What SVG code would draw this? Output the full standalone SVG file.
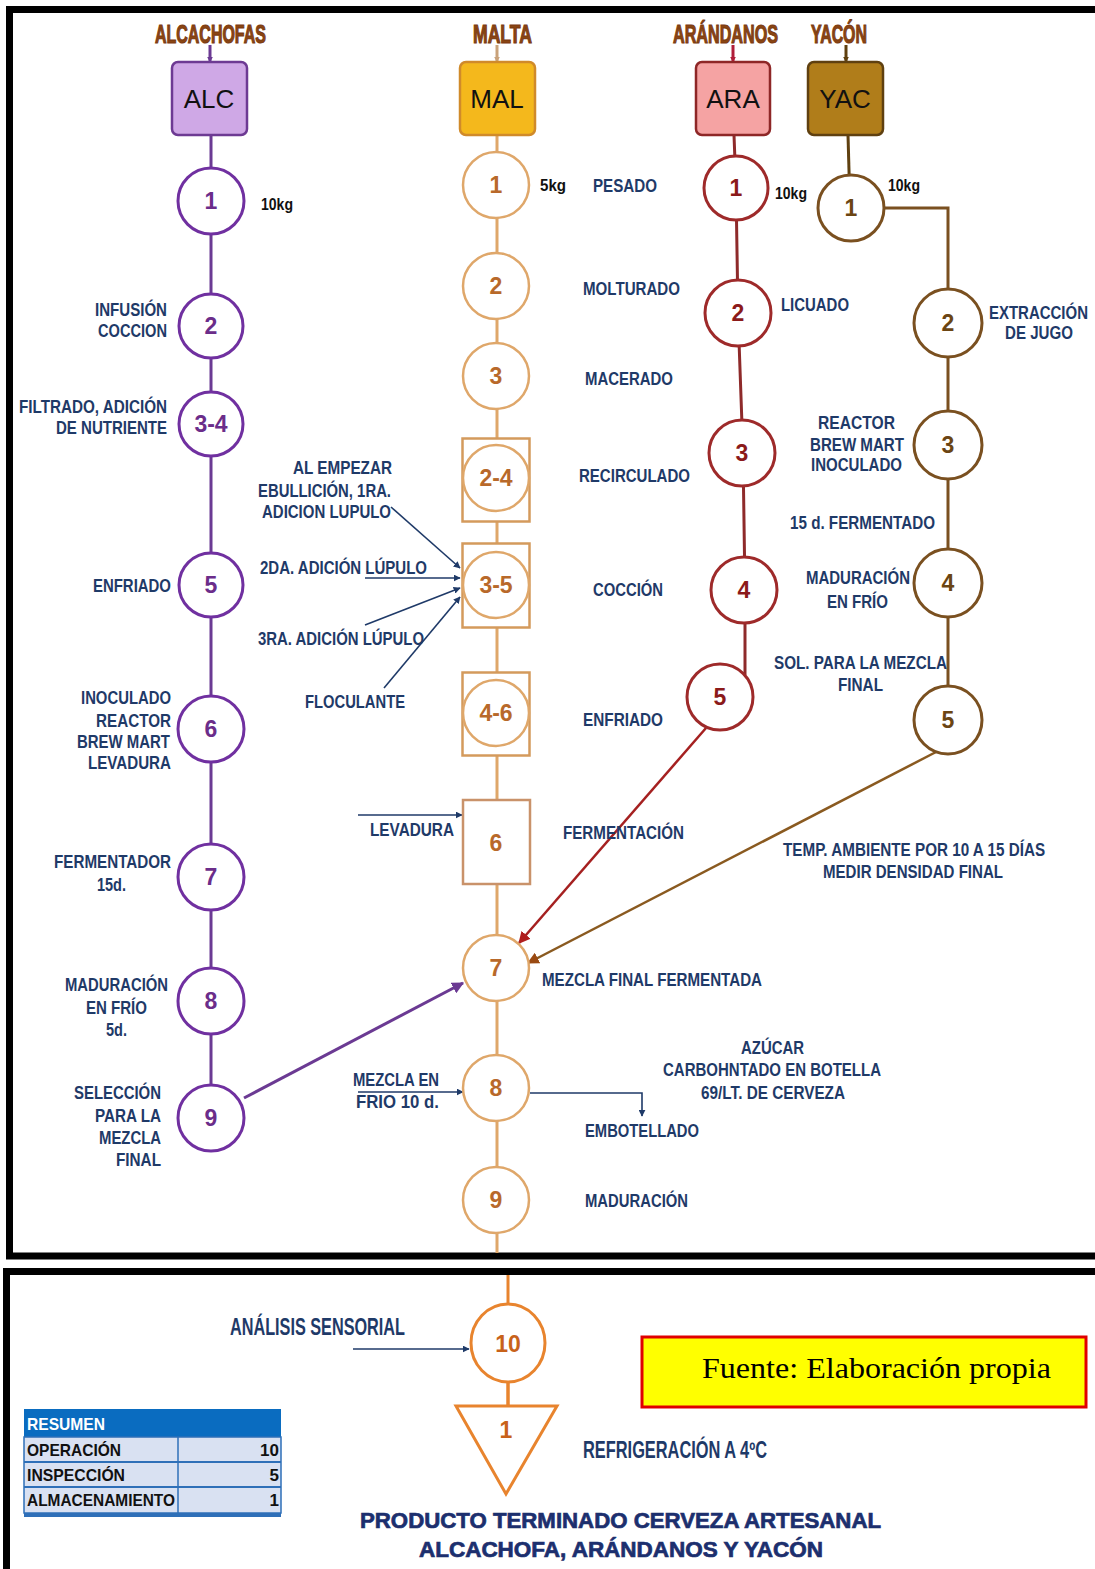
<svg xmlns="http://www.w3.org/2000/svg" width="1095" height="1569" viewBox="0 0 1095 1569">
<style>
text{font-family:"Liberation Sans",Arial,sans-serif;font-weight:bold}
.lb{font-size:19px;fill:#1f3a68}
.lg{font-size:23px;fill:#1f3a68}
.kg{font-size:17px;fill:#111}
.hd{font-size:25px;fill:#8a4513;stroke:#7a3a10;stroke-width:1.1px}
.num{font-size:23px;text-anchor:middle}
.box{font-size:26px;font-weight:normal;fill:#111;text-anchor:middle}
.src{font-family:"Liberation Serif","Times New Roman",serif;font-weight:normal;font-size:30px;fill:#000}
.tb{font-size:17px;fill:#111}
.ft{font-size:22px;fill:#1c2f6e;stroke:#1c2f6e;stroke-width:0.7px}
.ca{fill:#fff;stroke:#7030a0;stroke-width:3}
.cm{fill:#fff;stroke:#dfa76a;stroke-width:2.5}
.cr{fill:#fff;stroke:#9e2a2a;stroke-width:3}
.cy{fill:#fff;stroke:#7a5020;stroke-width:3}
.na{fill:#6b2d8a}.nm{fill:#b8692a}.nr{fill:#8b1a1a}.ny{fill:#6b4513}
.nav{stroke:#1f3a68;stroke-width:1.6;fill:none;marker-end:url(#an)}
</style>
<defs>
<marker id="an" viewBox="0 0 10 10" refX="9" refY="5" markerWidth="7" markerHeight="7" orient="auto" markerUnits="userSpaceOnUse"><path d="M0,0 L10,5 L0,10 z" fill="#1f3a68"/></marker>
<marker id="ap" viewBox="0 0 10 10" refX="9" refY="5" markerWidth="12" markerHeight="12" orient="auto" markerUnits="userSpaceOnUse"><path d="M0,0 L10,5 L0,10 z" fill="#6b3a93"/></marker>
<marker id="ar" viewBox="0 0 10 10" refX="9" refY="5" markerWidth="12" markerHeight="12" orient="auto" markerUnits="userSpaceOnUse"><path d="M0,0 L10,5 L0,10 z" fill="#b01e1e"/></marker>
<marker id="ab" viewBox="0 0 10 10" refX="9" refY="5" markerWidth="12" markerHeight="12" orient="auto" markerUnits="userSpaceOnUse"><path d="M0,0 L10,5 L0,10 z" fill="#9a4a12"/></marker>
<marker id="ah" viewBox="0 0 10 10" refX="9" refY="5" markerWidth="6" markerHeight="6" orient="auto" markerUnits="userSpaceOnUse"><path d="M0,0 L10,5 L0,10 z" fill="context-stroke"/></marker>
</defs>
<rect width="1095" height="1569" fill="#fff"/>
<!-- panels -->
<rect x="9.5" y="9.5" width="1100" height="1246.5" fill="none" stroke="#000" stroke-width="7"/>
<rect x="6.5" y="1271.5" width="1100" height="320" fill="none" stroke="#000" stroke-width="7"/>

<g id="connectors">
<line x1="211" y1="135" x2="211" y2="1118" stroke="#6b3a93" stroke-width="3"/>
<line x1="497" y1="135" x2="497" y2="1253" stroke="#dfa76a" stroke-width="3"/>
<line x1="508" y1="1275" x2="508" y2="1406" stroke="#e8842e" stroke-width="3"/>
<polyline points="734,135 736,188 738,313 743,453 745,590 745,675" fill="none" stroke="#8e2a2a" stroke-width="3"/>
<polyline points="848,135 850,206" fill="none" stroke="#5f4010" stroke-width="3"/>
<polyline points="851,208 948,208 948,720" fill="none" stroke="#7a5020" stroke-width="3"/>
<line x1="210" y1="45" x2="210" y2="62" stroke="#6b3a93" stroke-width="3" marker-end="url(#ah)"/>
<line x1="497" y1="45" x2="497" y2="62" stroke="#c9a27a" stroke-width="3" marker-end="url(#ah)"/>
<line x1="733" y1="45" x2="733" y2="62" stroke="#b01e3a" stroke-width="3" marker-end="url(#ah)"/>
<line x1="846" y1="45" x2="846" y2="62" stroke="#5f4010" stroke-width="3" marker-end="url(#ah)"/>
<line x1="244" y1="1098" x2="463" y2="983" stroke="#6b3a93" stroke-width="3" marker-end="url(#ap)"/>
<line x1="706" y1="728" x2="519" y2="943" stroke="#a52020" stroke-width="2.5" marker-end="url(#ar)"/>
<line x1="936" y1="752" x2="528" y2="963" stroke="#8a5a20" stroke-width="2.5" marker-end="url(#ab)"/>
<line class="nav" x1="391" y1="507" x2="460" y2="568"/>
<line class="nav" x1="365" y1="578" x2="460" y2="578"/>
<line class="nav" x1="365" y1="625" x2="460" y2="588"/>
<line class="nav" x1="384" y1="688" x2="460" y2="597"/>
<line class="nav" x1="358" y1="815" x2="462" y2="815"/>
<line class="nav" x1="358" y1="1092" x2="463" y2="1092"/>
<polyline class="nav" points="530,1093 642,1093 642,1116"/>
<line class="nav" x1="353" y1="1349" x2="469" y2="1349" stroke-width="2"/>
<line x1="508" y1="1383" x2="508" y2="1406" stroke="#e8842e" stroke-width="3"/>
</g>

<!-- headers and source boxes -->
<g id="alc-head"><text class="hd" transform="translate(155,43) scale(0.634,1)" textLength="175" lengthAdjust="spacingAndGlyphs">ALCACHOFAS</text>
<rect x="172" y="62" width="75" height="73" rx="6" fill="#cfa8e6" stroke="#6d3a93" stroke-width="2.5"/><text class="box" x="209" y="108">ALC</text></g>
<g id="mal-head"><text class="hd" transform="translate(473,43) scale(0.674,1)" textLength="87.5" lengthAdjust="spacingAndGlyphs">MALTA</text>
<rect x="460" y="62" width="75" height="73" rx="6" fill="#f4b81c" stroke="#d08a2a" stroke-width="2.5"/><text class="box" x="497" y="108">MAL</text></g>
<g id="ara-head"><text class="hd" transform="translate(673,43) scale(0.648,1)" textLength="162" lengthAdjust="spacingAndGlyphs">ARÁNDANOS</text>
<rect x="696" y="62" width="74" height="73" rx="6" fill="#f5a3a3" stroke="#8e2727" stroke-width="2.5"/><text class="box" x="733" y="108">ARA</text></g>
<g id="yac-head"><text class="hd" transform="translate(811,43) scale(0.62,1)" textLength="90.3" lengthAdjust="spacingAndGlyphs">YACÓN</text>
<rect x="808" y="62" width="75" height="73" rx="6" fill="#b07d1a" stroke="#5f4010" stroke-width="2.5"/><text class="box" x="845" y="108">YAC</text></g>

<!-- ALC column -->
<g id="alc1"><circle class="ca" cx="211" cy="201" r="33"/><text class="num na" x="211" y="209">1</text></g>
<g id="alc2"><circle class="ca" cx="211" cy="326" r="32"/><text class="num na" x="211" y="334">2</text></g>
<g id="alc34"><circle class="ca" cx="211" cy="424" r="32"/><text class="num na" x="211" y="432">3-4</text></g>
<g id="alc5"><circle class="ca" cx="211" cy="585" r="32"/><text class="num na" x="211" y="593">5</text></g>
<g id="alc6"><circle class="ca" cx="211" cy="729" r="33"/><text class="num na" x="211" y="737">6</text></g>
<g id="alc7"><circle class="ca" cx="211" cy="877" r="33"/><text class="num na" x="211" y="885">7</text></g>
<g id="alc8"><circle class="ca" cx="211" cy="1001" r="33"/><text class="num na" x="211" y="1009">8</text></g>
<g id="alc9"><circle class="ca" cx="211" cy="1118" r="33"/><text class="num na" x="211" y="1126">9</text></g>

<!-- MAL column -->
<g id="mal1"><circle class="cm" cx="496" cy="185" r="33"/><text class="num nm" x="496" y="193">1</text></g>
<g id="mal2"><circle class="cm" cx="496" cy="286" r="33"/><text class="num nm" x="496" y="294">2</text></g>
<g id="mal3"><circle class="cm" cx="496" cy="376" r="33"/><text class="num nm" x="496" y="384">3</text></g>
<g id="mal24"><rect x="462.5" y="438.5" width="67" height="83" fill="#fff" stroke="#d49a5c" stroke-width="2.5"/><circle class="cm" cx="496" cy="478" r="33"/><text class="num nm" x="496" y="486">2-4</text></g>
<g id="mal35"><rect x="462.5" y="543.5" width="67" height="84" fill="#fff" stroke="#d49a5c" stroke-width="2.5"/><circle class="cm" cx="496" cy="585" r="33"/><text class="num nm" x="496" y="593">3-5</text></g>
<g id="mal46"><rect x="462.5" y="672.5" width="67" height="83" fill="#fff" stroke="#d49a5c" stroke-width="2.5"/><circle class="cm" cx="496" cy="713" r="33"/><text class="num nm" x="496" y="721">4-6</text></g>
<g id="mal6"><rect x="463" y="800" width="67" height="84" fill="#fff" stroke="#c9926a" stroke-width="2.5"/><text class="num nm" x="496" y="851">6</text></g>
<g id="mal7"><circle class="cm" cx="496" cy="968" r="33"/><text class="num nm" x="496" y="976">7</text></g>
<g id="mal8"><circle class="cm" cx="496" cy="1088" r="33"/><text class="num nm" x="496" y="1096">8</text></g>
<g id="mal9"><circle class="cm" cx="496" cy="1200" r="33"/><text class="num nm" x="496" y="1208">9</text></g>
<g id="mal10"><ellipse cx="508" cy="1343" rx="37" ry="39" fill="#fff" stroke="#e8842e" stroke-width="3"/><text class="num" x="508" y="1352" fill="#c8621a" font-size="26">10</text></g>
<g id="alm1"><polygon points="456,1406 557,1406 506,1494" fill="#fff" stroke="#e8842e" stroke-width="3"/><text class="num" x="506" y="1438" fill="#c8621a">1</text></g>

<!-- ARA column -->
<g id="ara1"><circle class="cr" cx="736" cy="188" r="32"/><text class="num nr" x="736" y="196">1</text></g>
<g id="ara2"><circle class="cr" cx="738" cy="313" r="33"/><text class="num nr" x="738" y="321">2</text></g>
<g id="ara3"><circle class="cr" cx="742" cy="453" r="33"/><text class="num nr" x="742" y="461">3</text></g>
<g id="ara4"><circle class="cr" cx="744" cy="590" r="33"/><text class="num nr" x="744" y="598">4</text></g>
<g id="ara5"><circle class="cr" cx="720" cy="697" r="33"/><text class="num nr" x="720" y="705">5</text></g>

<!-- YAC column -->
<g id="yac1"><circle class="cy" cx="851" cy="208" r="33"/><text class="num ny" x="851" y="216">1</text></g>
<g id="yac2"><circle class="cy" cx="948" cy="323" r="34"/><text class="num ny" x="948" y="331">2</text></g>
<g id="yac3"><circle class="cy" cx="948" cy="445" r="34"/><text class="num ny" x="948" y="453">3</text></g>
<g id="yac4"><circle class="cy" cx="948" cy="583" r="34"/><text class="num ny" x="948" y="591">4</text></g>
<g id="yac5"><circle class="cy" cx="948" cy="720" r="34"/><text class="num ny" x="948" y="728">5</text></g>

<!-- labels -->
<g id="labels">
<text class="kg" x="261" y="210" textLength="32" lengthAdjust="spacingAndGlyphs">10kg</text>
<text class="lb" x="95" y="316" textLength="72" lengthAdjust="spacingAndGlyphs">INFUSIÓN</text>
<text class="lb" x="98" y="337" textLength="69" lengthAdjust="spacingAndGlyphs">COCCION</text>
<text class="lb" x="19" y="413" textLength="148" lengthAdjust="spacingAndGlyphs">FILTRADO, ADICIÓN</text>
<text class="lb" x="56" y="434" textLength="111" lengthAdjust="spacingAndGlyphs">DE NUTRIENTE</text>
<text class="lb" x="93" y="592" textLength="78" lengthAdjust="spacingAndGlyphs">ENFRIADO</text>
<text class="lb" x="81" y="704" textLength="90" lengthAdjust="spacingAndGlyphs">INOCULADO</text>
<text class="lb" x="96" y="727" textLength="75" lengthAdjust="spacingAndGlyphs">REACTOR</text>
<text class="lb" x="77" y="748" textLength="93" lengthAdjust="spacingAndGlyphs">BREW MART</text>
<text class="lb" x="88" y="769" textLength="83" lengthAdjust="spacingAndGlyphs">LEVADURA</text>
<text class="lb" x="54" y="868" textLength="117" lengthAdjust="spacingAndGlyphs">FERMENTADOR</text>
<text class="lb" x="97" y="891" textLength="29" lengthAdjust="spacingAndGlyphs">15d.</text>
<text class="lb" x="65" y="991" textLength="103" lengthAdjust="spacingAndGlyphs">MADURACIÓN</text>
<text class="lb" x="86" y="1014" textLength="61" lengthAdjust="spacingAndGlyphs">EN FRÍO</text>
<text class="lb" x="106" y="1036" textLength="21" lengthAdjust="spacingAndGlyphs">5d.</text>
<text class="lb" x="74" y="1099" textLength="87" lengthAdjust="spacingAndGlyphs">SELECCIÓN</text>
<text class="lb" x="95" y="1122" textLength="66" lengthAdjust="spacingAndGlyphs">PARA LA</text>
<text class="lb" x="99" y="1144" textLength="62" lengthAdjust="spacingAndGlyphs">MEZCLA</text>
<text class="lb" x="116" y="1166" textLength="45" lengthAdjust="spacingAndGlyphs">FINAL</text>

<text class="lb" x="293" y="474" textLength="99" lengthAdjust="spacingAndGlyphs">AL EMPEZAR</text>
<text class="lb" x="258" y="497" textLength="133" lengthAdjust="spacingAndGlyphs">EBULLICIÓN, 1RA.</text>
<text class="lb" x="262" y="518" textLength="129" lengthAdjust="spacingAndGlyphs">ADICION LUPULO</text>
<text class="lb" x="260" y="574" textLength="167" lengthAdjust="spacingAndGlyphs">2DA. ADICIÓN LÚPULO</text>
<text class="lb" x="258" y="645" textLength="166" lengthAdjust="spacingAndGlyphs">3RA. ADICIÓN LÚPULO</text>
<text class="lb" x="305" y="708" textLength="100" lengthAdjust="spacingAndGlyphs">FLOCULANTE</text>
<text class="lb" x="370" y="836" textLength="84" lengthAdjust="spacingAndGlyphs">LEVADURA</text>
<text class="lb" x="353" y="1086" textLength="86" lengthAdjust="spacingAndGlyphs">MEZCLA EN</text>
<text class="lb" x="356" y="1108" textLength="83" lengthAdjust="spacingAndGlyphs">FRIO 10 d.</text>

<text class="kg" x="540" y="191" textLength="26" lengthAdjust="spacingAndGlyphs">5kg</text>
<text class="lb" x="593" y="192" textLength="64" lengthAdjust="spacingAndGlyphs">PESADO</text>
<text class="lb" x="583" y="295" textLength="97" lengthAdjust="spacingAndGlyphs">MOLTURADO</text>
<text class="lb" x="585" y="385" textLength="88" lengthAdjust="spacingAndGlyphs">MACERADO</text>
<text class="lb" x="579" y="482" textLength="111" lengthAdjust="spacingAndGlyphs">RECIRCULADO</text>
<text class="lb" x="593" y="596" textLength="70" lengthAdjust="spacingAndGlyphs">COCCIÓN</text>
<text class="lb" x="583" y="726" textLength="80" lengthAdjust="spacingAndGlyphs">ENFRIADO</text>
<text class="lb" x="563" y="839" textLength="121" lengthAdjust="spacingAndGlyphs">FERMENTACIÓN</text>
<text class="lb" x="542" y="986" textLength="220" lengthAdjust="spacingAndGlyphs">MEZCLA FINAL FERMENTADA</text>
<text class="lb" x="741" y="1054" textLength="63" lengthAdjust="spacingAndGlyphs">AZÚCAR</text>
<text class="lb" x="663" y="1076" textLength="218" lengthAdjust="spacingAndGlyphs">CARBOHNTADO EN BOTELLA</text>
<text class="lb" x="701" y="1099" textLength="144" lengthAdjust="spacingAndGlyphs">69/LT. DE CERVEZA</text>
<text class="lb" x="585" y="1137" textLength="114" lengthAdjust="spacingAndGlyphs">EMBOTELLADO</text>
<text class="lb" x="585" y="1207" textLength="103" lengthAdjust="spacingAndGlyphs">MADURACIÓN</text>

<text class="kg" x="775" y="199" textLength="32" lengthAdjust="spacingAndGlyphs">10kg</text>
<text class="lb" x="781" y="311" textLength="68" lengthAdjust="spacingAndGlyphs">LICUADO</text>

<text class="kg" x="888" y="191" textLength="32" lengthAdjust="spacingAndGlyphs">10kg</text>
<text class="lb" transform="translate(989,319) scale(0.79,1)" textLength="125.3" lengthAdjust="spacingAndGlyphs">EXTRACCIÓN</text>
<text class="lb" transform="translate(1005,339) scale(0.795,1)" textLength="85.5" lengthAdjust="spacingAndGlyphs">DE JUGO</text>
<text class="lb" x="818" y="429" textLength="77" lengthAdjust="spacingAndGlyphs">REACTOR</text>
<text class="lb" x="810" y="451" textLength="94" lengthAdjust="spacingAndGlyphs">BREW MART</text>
<text class="lb" x="811" y="471" textLength="91" lengthAdjust="spacingAndGlyphs">INOCULADO</text>
<text class="lb" x="790" y="529" textLength="145" lengthAdjust="spacingAndGlyphs">15 d. FERMENTADO</text>
<text class="lb" x="806" y="584" textLength="104" lengthAdjust="spacingAndGlyphs">MADURACIÓN</text>
<text class="lb" x="827" y="608" textLength="61" lengthAdjust="spacingAndGlyphs">EN FRÍO</text>
<text class="lb" x="774" y="669" textLength="173" lengthAdjust="spacingAndGlyphs">SOL. PARA LA MEZCLA</text>
<text class="lb" x="838" y="691" textLength="45" lengthAdjust="spacingAndGlyphs">FINAL</text>
<text class="lb" transform="translate(783,856) scale(0.84,1)" textLength="312" lengthAdjust="spacingAndGlyphs">TEMP. AMBIENTE POR 10 A 15 DÍAS</text>
<text class="lb" x="823" y="878" textLength="180" lengthAdjust="spacingAndGlyphs">MEDIR DENSIDAD FINAL</text>

<text class="lg" x="230" y="1335" textLength="175" lengthAdjust="spacingAndGlyphs">ANÁLISIS SENSORIAL</text>
<text class="lg" x="583" y="1458" textLength="184" lengthAdjust="spacingAndGlyphs">REFRIGERACIÓN A 4ºC</text>
<text class="ft" x="360" y="1528" textLength="521" lengthAdjust="spacingAndGlyphs">PRODUCTO TERMINADO CERVEZA ARTESANAL</text>
<text class="ft" x="419" y="1557" textLength="404" lengthAdjust="spacingAndGlyphs">ALCACHOFA, ARÁNDANOS Y YACÓN</text>
</g>

<g id="fuente">
<rect x="642" y="1337" width="444" height="70" fill="#ffff00" stroke="#e00000" stroke-width="3"/>
<text class="src" x="702" y="1378" textLength="349" lengthAdjust="spacingAndGlyphs">Fuente: Elaboración propia</text>
</g>

<g id="resumen">
<rect x="24" y="1409" width="257" height="28" fill="#0a6cc0"/>
<text class="tb" x="27" y="1430" style="fill:#fff" textLength="78" lengthAdjust="spacingAndGlyphs">RESUMEN</text>
<rect x="24" y="1437" width="257" height="76" fill="#d9e1f2" stroke="#2e6fb8" stroke-width="1.5"/>
<line x1="24" y1="1462" x2="281" y2="1462" stroke="#2e6fb8" stroke-width="2"/>
<line x1="24" y1="1487" x2="281" y2="1487" stroke="#2e6fb8" stroke-width="2"/>
<line x1="178" y1="1437" x2="178" y2="1513" stroke="#2e6fb8" stroke-width="1.5"/>
<rect x="24" y="1513" width="257" height="4" fill="#2e6fb8"/>
<text class="tb" x="27" y="1456" textLength="94" lengthAdjust="spacingAndGlyphs">OPERACIÓN</text>
<text class="tb" x="27" y="1481" textLength="98" lengthAdjust="spacingAndGlyphs">INSPECCIÓN</text>
<text class="tb" x="27" y="1506" textLength="148" lengthAdjust="spacingAndGlyphs">ALMACENAMIENTO</text>
<text class="tb" x="279" y="1456" text-anchor="end">10</text>
<text class="tb" x="279" y="1481" text-anchor="end">5</text>
<text class="tb" x="279" y="1506" text-anchor="end">1</text>
</g>
</svg>
